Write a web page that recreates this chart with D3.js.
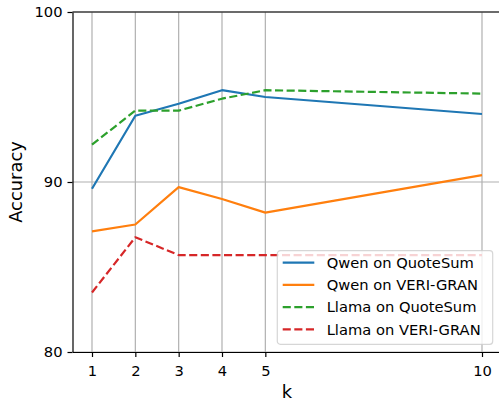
<!DOCTYPE html>
<html>
<head>
<meta charset="utf-8">
<script src="https://cdn.jsdelivr.net/npm/d3@7"></script>
</head>
<body style="margin:0; background:#fff">
<div id="chart"></div>
<script>
// data
const kValues = [1, 2, 3, 4, 5, 10];
const qwenQuoteSum = [89.6, 93.9, 94.6, 95.4, 95.0, 94.0];
const qwenVeriGran = [87.1, 87.5, 89.7, 89.0, 88.2, 90.4];
const llamaQuoteSum = [92.2, 94.2, 94.2, 94.9, 95.4, 95.2];
const llamaVeriGran = [83.5, 86.75, 85.7, 85.7, 85.7, 85.7];
const seriesNames = ["Qwen on QuoteSum", "Qwen on VERI-GRAN", "Llama on QuoteSum", "Llama on VERI-GRAN"];
const yTicks = [80, 90, 100];

const FONT = "DejaVu Sans";

const series = [
  {name: seriesNames[0], values: qwenQuoteSum, color: "#1f77b4", dash: null},
  {name: seriesNames[1], values: qwenVeriGran, color: "#ff7f0e", dash: null},
  {name: seriesNames[2], values: llamaQuoteSum, color: "#2ca02c", dash: "8.1,3.5"},
  {name: seriesNames[3], values: llamaVeriGran, color: "#d62728", dash: "8.1,3.5"}
];

const W = 499, H = 403;
const plot = {left: 72.5, right: 501.5, top: 12, bottom: 352};

const svg = d3.select("#chart").append("svg")
  .attr("width", W)
  .attr("height", H)
  .style("display", "block")
  .style("font-family", FONT);

const x = d3.scaleLinear()
  .domain([0.55, 10.45])
  .range([plot.left, plot.right]);

const y = d3.scaleLinear()
  .domain([80, 100])
  .range([plot.bottom, plot.top]);

svg.append("defs").append("clipPath").attr("id", "clip")
  .append("rect")
  .attr("x", plot.left).attr("y", plot.top)
  .attr("width", plot.right - plot.left).attr("height", plot.bottom - plot.top);

// grid
const grid = svg.append("g").attr("stroke", "#b0b0b0").attr("stroke-width", 1.2);
grid.selectAll("line.vx").data(kValues).enter().append("line")
  .attr("x1", d => x(d)).attr("x2", d => x(d))
  .attr("y1", plot.top).attr("y2", plot.bottom);
grid.selectAll("line.hy").data(yTicks).enter().append("line")
  .attr("x1", plot.left).attr("x2", plot.right)
  .attr("y1", d => y(d)).attr("y2", d => y(d));

// lines
const line = d3.line()
  .x((d, i) => x(kValues[i]))
  .y(d => y(d));

svg.append("g").attr("clip-path", "url(#clip)")
  .selectAll("path").data(series).enter().append("path")
  .attr("d", d => line(d.values))
  .attr("fill", "none")
  .attr("stroke", d => d.color)
  .attr("stroke-width", 2.2)
  .attr("stroke-dasharray", d => d.dash)
  .attr("stroke-linejoin", "round");

// axes
const xAxis = svg.append("g")
  .attr("transform", `translate(0, ${plot.bottom})`)
  .call(d3.axisBottom(x).tickValues(kValues).tickSize(5).tickPadding(5).tickSizeOuter(0));
const yAxis = svg.append("g")
  .attr("transform", `translate(${plot.left}, 0)`)
  .call(d3.axisLeft(y).tickValues(yTicks).tickSize(5).tickPadding(5).tickSizeOuter(0));

[xAxis, yAxis].forEach(a => {
  a.attr("font-family", FONT);
  a.select(".domain").attr("stroke", "#000").attr("stroke-width", 1.2);
  a.selectAll(".tick line").attr("stroke", "#000").attr("stroke-width", 1.2);
  a.selectAll(".tick text")
    .attr("fill", "#000")
    .style("font-size", "14.7px")
    .style("font-family", FONT);
});
xAxis.selectAll(".tick text").attr("dy", "0.95em");

// top spine
svg.append("line")
  .attr("x1", plot.left).attr("x2", plot.right)
  .attr("y1", plot.top).attr("y2", plot.top)
  .attr("stroke", "#000").attr("stroke-width", 1.2);

// axis labels
svg.append("text")
  .attr("x", (plot.left + plot.right) / 2).attr("y", 398)
  .attr("text-anchor", "middle")
  .style("font-family", FONT)
  .style("font-size", "17.9px")
  .text("k");
svg.append("text")
  .attr("transform", `translate(22, ${(plot.top + plot.bottom) / 2}) rotate(-90)`)
  .attr("text-anchor", "middle")
  .style("font-family", FONT)
  .style("font-size", "17.9px")
  .text("Accuracy");

// legend
const legend = svg.append("g").attr("transform", "translate(277.3, 250.7)");
legend.append("rect")
  .attr("width", 215.4).attr("height", 93.6)
  .attr("rx", 3)
  .attr("fill", "#fff").attr("fill-opacity", 0.8)
  .attr("stroke", "#ccc").attr("stroke-opacity", 0.8).attr("stroke-width", 1.2);

const rows = legend.selectAll("g.row").data(series).enter().append("g")
  .attr("transform", (d, i) => `translate(0, ${12 + i * 22.2})`);
rows.append("line")
  .attr("x1", 5.4).attr("x2", 37)
  .attr("stroke", d => d.color)
  .attr("stroke-width", 2.2)
  .attr("stroke-dasharray", d => d.dash);
rows.append("text")
  .attr("x", 49.4).attr("dy", "0.36em")
  .style("font-family", FONT)
  .style("font-size", "14.7px")
  .text(d => d.name);
</script>
</body>
</html>
